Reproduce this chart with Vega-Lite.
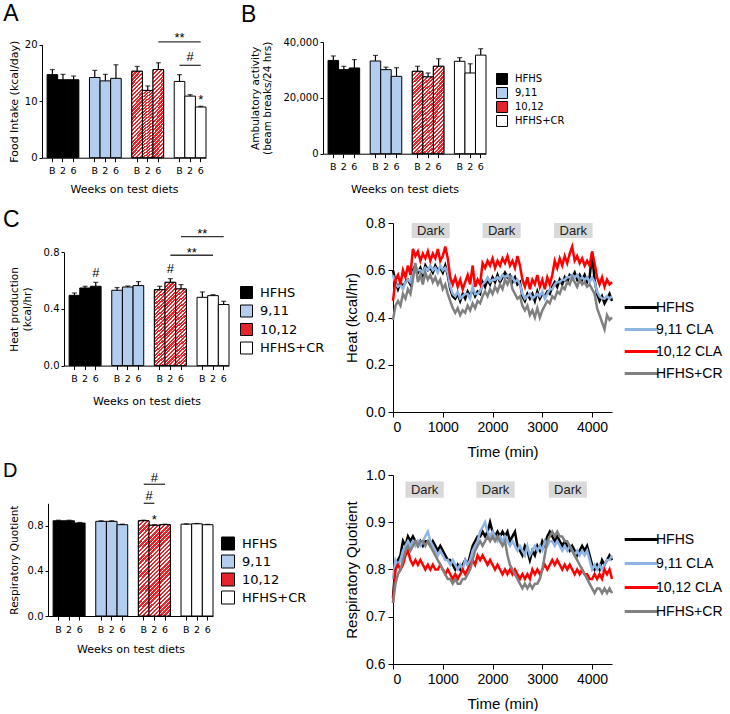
{
"$schema":"https://vega.github.io/schema/vega-lite/v6.json",
"padding":{"left":0,"top":3,"right":0,"bottom":0},
"background":"white",
"config":{"view":{"stroke":null},"axis":{"grid":false,"domainColor":"black","tickColor":"black","labelColor":"black","titleColor":"black","titleFontWeight":"normal"},"legend":{"labelColor":"black","labelLimit":300},"title":{"fontWeight":"normal","color":"black"}},
"datasets":{
"spacer":[{"k":1}],
"barA":[
{"bar":"HFHS-B","group":"HFHS","v":14.7,"hi":15.6},{"bar":"HFHS-2","group":"HFHS","v":13.8,"hi":14.75},{"bar":"HFHS-6","group":"HFHS","v":13.8,"hi":14.45},
{"bar":"9,11-B","group":"9,11","v":14.2,"hi":15.45},{"bar":"9,11-2","group":"9,11","v":13.6,"hi":14.75},{"bar":"9,11-6","group":"9,11","v":14.05,"hi":16.45},
{"bar":"10,12-B","group":"10,12","v":15.3,"hi":16.15},{"bar":"10,12-2","group":"10,12","v":11.9,"hi":12.7},{"bar":"10,12-6","group":"10,12","v":15.6,"hi":16.8},
{"bar":"CR-B","group":"HFHS+CR","v":13.5,"hi":14.7},{"bar":"CR-2","group":"HFHS+CR","v":10.9,"hi":11.15},{"bar":"CR-6","group":"HFHS+CR","v":8.97,"hi":9.1}],
"annA_l":[{"id":1,"bar":"10,12-6","v":20.5},{"id":1,"bar":"CR-6","v":20.5},{"id":2,"bar":"CR-B","v":16.35},{"id":2,"bar":"CR-6","v":16.35}],
"annA_t":[{"bar":"CR-B","v":21.15,"label":"**"},{"bar":"CR-2","v":17.8,"label":"#"},{"bar":"CR-6","v":10.3,"label":"*"}],
"barB":[
{"bar":"HFHS-B","group":"HFHS","v":33400,"hi":35000},{"bar":"HFHS-2","group":"HFHS","v":30100,"hi":31300},{"bar":"HFHS-6","group":"HFHS","v":30700,"hi":33700},
{"bar":"9,11-B","group":"9,11","v":33200,"hi":35200},{"bar":"9,11-2","group":"9,11","v":30100,"hi":31000},{"bar":"9,11-6","group":"9,11","v":27700,"hi":30800},
{"bar":"10,12-B","group":"10,12","v":29500,"hi":31300},{"bar":"10,12-2","group":"10,12","v":27500,"hi":28900},{"bar":"10,12-6","group":"10,12","v":31300,"hi":34000},
{"bar":"CR-B","group":"HFHS+CR","v":33100,"hi":34400},{"bar":"CR-2","group":"HFHS+CR","v":28900,"hi":32200},{"bar":"CR-6","group":"HFHS+CR","v":35300,"hi":37600}],
"barC":[
{"bar":"HFHS-B","group":"HFHS","v":0.496,"hi":0.513},{"bar":"HFHS-2","group":"HFHS","v":0.548,"hi":0.56},{"bar":"HFHS-6","group":"HFHS","v":0.56,"hi":0.588},
{"bar":"9,11-B","group":"9,11","v":0.532,"hi":0.551},{"bar":"9,11-2","group":"9,11","v":0.555,"hi":0.562},{"bar":"9,11-6","group":"9,11","v":0.565,"hi":0.593},
{"bar":"10,12-B","group":"10,12","v":0.536,"hi":0.56},{"bar":"10,12-2","group":"10,12","v":0.588,"hi":0.614},{"bar":"10,12-6","group":"10,12","v":0.541,"hi":0.572},
{"bar":"CR-B","group":"HFHS+CR","v":0.482,"hi":0.52},{"bar":"CR-2","group":"HFHS+CR","v":0.494,"hi":0.501},{"bar":"CR-6","group":"HFHS+CR","v":0.431,"hi":0.454}],
"annC_l":[{"id":1,"bar":"10,12-6","v":0.91},{"id":1,"bar":"CR-6","v":0.91},{"id":2,"bar":"10,12-2","v":0.779},{"id":2,"bar":"CR-2","v":0.779}],
"annC_t":[{"bar":"CR-B","v":0.926,"label":"**"},{"bar":"g3","v":0.796,"label":"**"},{"bar":"HFHS-6","v":0.651,"label":"#"},{"bar":"10,12-2","v":0.68,"label":"#"}],
"barD":[
{"bar":"HFHS-B","group":"HFHS","v":0.845,"hi":0.85},{"bar":"HFHS-2","group":"HFHS","v":0.845,"hi":0.85},{"bar":"HFHS-6","group":"HFHS","v":0.825,"hi":0.83},
{"bar":"9,11-B","group":"9,11","v":0.84,"hi":0.845},{"bar":"9,11-2","group":"9,11","v":0.84,"hi":0.845},{"bar":"9,11-6","group":"9,11","v":0.81,"hi":0.815},
{"bar":"10,12-B","group":"10,12","v":0.845,"hi":0.85},{"bar":"10,12-2","group":"10,12","v":0.805,"hi":0.81},{"bar":"10,12-6","group":"10,12","v":0.81,"hi":0.815},
{"bar":"CR-B","group":"HFHS+CR","v":0.815,"hi":0.818},{"bar":"CR-2","group":"HFHS+CR","v":0.818,"hi":0.821},{"bar":"CR-6","group":"HFHS+CR","v":0.81,"hi":0.813}],
"annD_l":[{"id":1,"bar":"10,12-B","v":1.0},{"id":1,"bar":"10,12-2","v":1.0},{"id":2,"bar":"10,12-B","v":1.169},{"id":2,"bar":"10,12-6","v":1.169}],
"annD_t":[{"bar":"10,12-2","v":1.227,"label":"#"},{"bar":"10,12-2","v":0.85,"label":"*"}],
"annD_t2":[{"bar":"10,12-B","v":1.065,"label":"#"}],
"darkC":[{"x1":375,"x2":1140,"mid":757,"y1":0.737,"y2":0.8,"ym":0.768,"label":"Dark"},{"x1":1800,"x2":2565,"mid":2182,"y1":0.737,"y2":0.8,"ym":0.768,"label":"Dark"},{"x1":3235,"x2":4010,"mid":3622,"y1":0.737,"y2":0.8,"ym":0.768,"label":"Dark"}],
"darkD":[{"x1":250,"x2":1020,"mid":635,"y1":0.952,"y2":0.986,"ym":0.969,"label":"Dark"},{"x1":1675,"x2":2445,"mid":2060,"y1":0.952,"y2":0.986,"ym":0.969,"label":"Dark"},{"x1":3130,"x2":3895,"mid":3512,"y1":0.952,"y2":0.986,"ym":0.969,"label":"Dark"}],
"heat":[
{"t":0,"HFHS":0.60,"9,11 CLA":0.58,"10,12 CLA":0.47,"HFHS+CR":0.39},
{"t":50,"HFHS":0.55,"9,11 CLA":0.54,"10,12 CLA":0.56,"HFHS+CR":0.45},
{"t":100,"HFHS":0.52,"9,11 CLA":0.53,"10,12 CLA":0.58,"HFHS+CR":0.47},
{"t":150,"HFHS":0.55,"9,11 CLA":0.54,"10,12 CLA":0.54,"HFHS+CR":0.45},
{"t":200,"HFHS":0.53,"9,11 CLA":0.52,"10,12 CLA":0.60,"HFHS+CR":0.50},
{"t":250,"HFHS":0.55,"9,11 CLA":0.55,"10,12 CLA":0.57,"HFHS+CR":0.48},
{"t":300,"HFHS":0.56,"9,11 CLA":0.56,"10,12 CLA":0.62,"HFHS+CR":0.52},
{"t":350,"HFHS":0.54,"9,11 CLA":0.55,"10,12 CLA":0.58,"HFHS+CR":0.50},
{"t":400,"HFHS":0.60,"9,11 CLA":0.59,"10,12 CLA":0.69,"HFHS+CR":0.56},
{"t":450,"HFHS":0.62,"9,11 CLA":0.61,"10,12 CLA":0.66,"HFHS+CR":0.63},
{"t":500,"HFHS":0.59,"9,11 CLA":0.60,"10,12 CLA":0.68,"HFHS+CR":0.55},
{"t":550,"HFHS":0.61,"9,11 CLA":0.60,"10,12 CLA":0.64,"HFHS+CR":0.58},
{"t":600,"HFHS":0.58,"9,11 CLA":0.59,"10,12 CLA":0.67,"HFHS+CR":0.54},
{"t":650,"HFHS":0.62,"9,11 CLA":0.61,"10,12 CLA":0.65,"HFHS+CR":0.59},
{"t":700,"HFHS":0.60,"9,11 CLA":0.60,"10,12 CLA":0.68,"HFHS+CR":0.56},
{"t":750,"HFHS":0.61,"9,11 CLA":0.62,"10,12 CLA":0.64,"HFHS+CR":0.58},
{"t":800,"HFHS":0.59,"9,11 CLA":0.60,"10,12 CLA":0.67,"HFHS+CR":0.55},
{"t":850,"HFHS":0.62,"9,11 CLA":0.61,"10,12 CLA":0.65,"HFHS+CR":0.57},
{"t":900,"HFHS":0.60,"9,11 CLA":0.59,"10,12 CLA":0.69,"HFHS+CR":0.54},
{"t":950,"HFHS":0.61,"9,11 CLA":0.62,"10,12 CLA":0.64,"HFHS+CR":0.56},
{"t":1000,"HFHS":0.59,"9,11 CLA":0.60,"10,12 CLA":0.66,"HFHS+CR":0.52},
{"t":1050,"HFHS":0.62,"9,11 CLA":0.61,"10,12 CLA":0.70,"HFHS+CR":0.54},
{"t":1100,"HFHS":0.58,"9,11 CLA":0.59,"10,12 CLA":0.65,"HFHS+CR":0.50},
{"t":1150,"HFHS":0.52,"9,11 CLA":0.53,"10,12 CLA":0.57,"HFHS+CR":0.47},
{"t":1200,"HFHS":0.49,"9,11 CLA":0.50,"10,12 CLA":0.54,"HFHS+CR":0.44},
{"t":1250,"HFHS":0.48,"9,11 CLA":0.49,"10,12 CLA":0.57,"HFHS+CR":0.42},
{"t":1300,"HFHS":0.50,"9,11 CLA":0.51,"10,12 CLA":0.53,"HFHS+CR":0.44},
{"t":1350,"HFHS":0.47,"9,11 CLA":0.48,"10,12 CLA":0.56,"HFHS+CR":0.41},
{"t":1400,"HFHS":0.50,"9,11 CLA":0.49,"10,12 CLA":0.52,"HFHS+CR":0.43},
{"t":1450,"HFHS":0.48,"9,11 CLA":0.50,"10,12 CLA":0.55,"HFHS+CR":0.42},
{"t":1500,"HFHS":0.51,"9,11 CLA":0.50,"10,12 CLA":0.58,"HFHS+CR":0.45},
{"t":1550,"HFHS":0.49,"9,11 CLA":0.48,"10,12 CLA":0.54,"HFHS+CR":0.43},
{"t":1600,"HFHS":0.52,"9,11 CLA":0.53,"10,12 CLA":0.62,"HFHS+CR":0.46},
{"t":1650,"HFHS":0.49,"9,11 CLA":0.50,"10,12 CLA":0.53,"HFHS+CR":0.44},
{"t":1700,"HFHS":0.51,"9,11 CLA":0.50,"10,12 CLA":0.56,"HFHS+CR":0.47},
{"t":1750,"HFHS":0.50,"9,11 CLA":0.51,"10,12 CLA":0.54,"HFHS+CR":0.46},
{"t":1800,"HFHS":0.55,"9,11 CLA":0.54,"10,12 CLA":0.63,"HFHS+CR":0.49},
{"t":1850,"HFHS":0.53,"9,11 CLA":0.55,"10,12 CLA":0.61,"HFHS+CR":0.51},
{"t":1900,"HFHS":0.56,"9,11 CLA":0.57,"10,12 CLA":0.64,"HFHS+CR":0.49},
{"t":1950,"HFHS":0.54,"9,11 CLA":0.55,"10,12 CLA":0.62,"HFHS+CR":0.52},
{"t":2000,"HFHS":0.57,"9,11 CLA":0.56,"10,12 CLA":0.65,"HFHS+CR":0.50},
{"t":2050,"HFHS":0.55,"9,11 CLA":0.56,"10,12 CLA":0.61,"HFHS+CR":0.53},
{"t":2100,"HFHS":0.58,"9,11 CLA":0.57,"10,12 CLA":0.64,"HFHS+CR":0.51},
{"t":2150,"HFHS":0.55,"9,11 CLA":0.56,"10,12 CLA":0.62,"HFHS+CR":0.54},
{"t":2200,"HFHS":0.57,"9,11 CLA":0.58,"10,12 CLA":0.65,"HFHS+CR":0.52},
{"t":2250,"HFHS":0.59,"9,11 CLA":0.57,"10,12 CLA":0.63,"HFHS+CR":0.56},
{"t":2300,"HFHS":0.57,"9,11 CLA":0.58,"10,12 CLA":0.66,"HFHS+CR":0.54},
{"t":2350,"HFHS":0.58,"9,11 CLA":0.56,"10,12 CLA":0.62,"HFHS+CR":0.57},
{"t":2400,"HFHS":0.55,"9,11 CLA":0.57,"10,12 CLA":0.64,"HFHS+CR":0.52},
{"t":2450,"HFHS":0.57,"9,11 CLA":0.55,"10,12 CLA":0.61,"HFHS+CR":0.50},
{"t":2500,"HFHS":0.54,"9,11 CLA":0.56,"10,12 CLA":0.66,"HFHS+CR":0.48},
{"t":2550,"HFHS":0.55,"9,11 CLA":0.54,"10,12 CLA":0.62,"HFHS+CR":0.49},
{"t":2600,"HFHS":0.49,"9,11 CLA":0.50,"10,12 CLA":0.56,"HFHS+CR":0.45},
{"t":2650,"HFHS":0.47,"9,11 CLA":0.48,"10,12 CLA":0.53,"HFHS+CR":0.43},
{"t":2700,"HFHS":0.50,"9,11 CLA":0.49,"10,12 CLA":0.57,"HFHS+CR":0.45},
{"t":2750,"HFHS":0.48,"9,11 CLA":0.50,"10,12 CLA":0.52,"HFHS+CR":0.41},
{"t":2800,"HFHS":0.50,"9,11 CLA":0.48,"10,12 CLA":0.56,"HFHS+CR":0.43},
{"t":2850,"HFHS":0.47,"9,11 CLA":0.49,"10,12 CLA":0.54,"HFHS+CR":0.40},
{"t":2900,"HFHS":0.51,"9,11 CLA":0.50,"10,12 CLA":0.58,"HFHS+CR":0.44},
{"t":2950,"HFHS":0.48,"9,11 CLA":0.49,"10,12 CLA":0.53,"HFHS+CR":0.40},
{"t":3000,"HFHS":0.50,"9,11 CLA":0.51,"10,12 CLA":0.56,"HFHS+CR":0.43},
{"t":3050,"HFHS":0.49,"9,11 CLA":0.48,"10,12 CLA":0.52,"HFHS+CR":0.45},
{"t":3100,"HFHS":0.51,"9,11 CLA":0.50,"10,12 CLA":0.57,"HFHS+CR":0.47},
{"t":3150,"HFHS":0.50,"9,11 CLA":0.52,"10,12 CLA":0.54,"HFHS+CR":0.46},
{"t":3200,"HFHS":0.53,"9,11 CLA":0.52,"10,12 CLA":0.58,"HFHS+CR":0.49},
{"t":3250,"HFHS":0.55,"9,11 CLA":0.54,"10,12 CLA":0.64,"HFHS+CR":0.48},
{"t":3300,"HFHS":0.53,"9,11 CLA":0.55,"10,12 CLA":0.61,"HFHS+CR":0.51},
{"t":3350,"HFHS":0.56,"9,11 CLA":0.55,"10,12 CLA":0.65,"HFHS+CR":0.50},
{"t":3400,"HFHS":0.54,"9,11 CLA":0.56,"10,12 CLA":0.62,"HFHS+CR":0.53},
{"t":3450,"HFHS":0.57,"9,11 CLA":0.56,"10,12 CLA":0.66,"HFHS+CR":0.52},
{"t":3500,"HFHS":0.55,"9,11 CLA":0.57,"10,12 CLA":0.63,"HFHS+CR":0.55},
{"t":3550,"HFHS":0.58,"9,11 CLA":0.57,"10,12 CLA":0.67,"HFHS+CR":0.54},
{"t":3600,"HFHS":0.57,"9,11 CLA":0.58,"10,12 CLA":0.70,"HFHS+CR":0.57},
{"t":3650,"HFHS":0.59,"9,11 CLA":0.57,"10,12 CLA":0.64,"HFHS+CR":0.55},
{"t":3700,"HFHS":0.56,"9,11 CLA":0.58,"10,12 CLA":0.66,"HFHS+CR":0.53},
{"t":3750,"HFHS":0.58,"9,11 CLA":0.56,"10,12 CLA":0.63,"HFHS+CR":0.56},
{"t":3800,"HFHS":0.56,"9,11 CLA":0.57,"10,12 CLA":0.65,"HFHS+CR":0.54},
{"t":3850,"HFHS":0.58,"9,11 CLA":0.56,"10,12 CLA":0.62,"HFHS+CR":0.55},
{"t":3900,"HFHS":0.55,"9,11 CLA":0.57,"10,12 CLA":0.64,"HFHS+CR":0.53},
{"t":3950,"HFHS":0.57,"9,11 CLA":0.55,"10,12 CLA":0.62,"HFHS+CR":0.54},
{"t":4000,"HFHS":0.67,"9,11 CLA":0.57,"10,12 CLA":0.68,"HFHS+CR":0.52},
{"t":4050,"HFHS":0.56,"9,11 CLA":0.55,"10,12 CLA":0.63,"HFHS+CR":0.50},
{"t":4100,"HFHS":0.50,"9,11 CLA":0.51,"10,12 CLA":0.57,"HFHS+CR":0.44},
{"t":4150,"HFHS":0.47,"9,11 CLA":0.49,"10,12 CLA":0.54,"HFHS+CR":0.41},
{"t":4200,"HFHS":0.49,"9,11 CLA":0.48,"10,12 CLA":0.57,"HFHS+CR":0.38},
{"t":4250,"HFHS":0.46,"9,11 CLA":0.48,"10,12 CLA":0.53,"HFHS+CR":0.35},
{"t":4300,"HFHS":0.48,"9,11 CLA":0.49,"10,12 CLA":0.56,"HFHS+CR":0.41},
{"t":4350,"HFHS":0.50,"9,11 CLA":0.48,"10,12 CLA":0.54,"HFHS+CR":0.39},
{"t":4400,"HFHS":0.47,"9,11 CLA":0.49,"10,12 CLA":0.55,"HFHS+CR":0.40}],
"rq":[
{"t":0,"HFHS":0.74,"9,11 CLA":0.78,"10,12 CLA":0.73,"HFHS+CR":0.73},
{"t":50,"HFHS":0.81,"9,11 CLA":0.82,"10,12 CLA":0.80,"HFHS+CR":0.77},
{"t":100,"HFHS":0.82,"9,11 CLA":0.81,"10,12 CLA":0.81,"HFHS+CR":0.79},
{"t":150,"HFHS":0.83,"9,11 CLA":0.82,"10,12 CLA":0.80,"HFHS+CR":0.80},
{"t":200,"HFHS":0.86,"9,11 CLA":0.84,"10,12 CLA":0.81,"HFHS+CR":0.82},
{"t":250,"HFHS":0.85,"9,11 CLA":0.85,"10,12 CLA":0.83,"HFHS+CR":0.84},
{"t":300,"HFHS":0.87,"9,11 CLA":0.86,"10,12 CLA":0.84,"HFHS+CR":0.85},
{"t":350,"HFHS":0.86,"9,11 CLA":0.85,"10,12 CLA":0.82,"HFHS+CR":0.84},
{"t":400,"HFHS":0.87,"9,11 CLA":0.86,"10,12 CLA":0.81,"HFHS+CR":0.85},
{"t":450,"HFHS":0.86,"9,11 CLA":0.85,"10,12 CLA":0.82,"HFHS+CR":0.86},
{"t":500,"HFHS":0.85,"9,11 CLA":0.86,"10,12 CLA":0.81,"HFHS+CR":0.85},
{"t":550,"HFHS":0.86,"9,11 CLA":0.85,"10,12 CLA":0.82,"HFHS+CR":0.86},
{"t":600,"HFHS":0.85,"9,11 CLA":0.86,"10,12 CLA":0.81,"HFHS+CR":0.86},
{"t":650,"HFHS":0.86,"9,11 CLA":0.87,"10,12 CLA":0.80,"HFHS+CR":0.85},
{"t":700,"HFHS":0.86,"9,11 CLA":0.88,"10,12 CLA":0.81,"HFHS+CR":0.86},
{"t":750,"HFHS":0.85,"9,11 CLA":0.86,"10,12 CLA":0.80,"HFHS+CR":0.85},
{"t":800,"HFHS":0.86,"9,11 CLA":0.85,"10,12 CLA":0.81,"HFHS+CR":0.84},
{"t":850,"HFHS":0.85,"9,11 CLA":0.84,"10,12 CLA":0.80,"HFHS+CR":0.83},
{"t":900,"HFHS":0.84,"9,11 CLA":0.83,"10,12 CLA":0.80,"HFHS+CR":0.82},
{"t":950,"HFHS":0.85,"9,11 CLA":0.84,"10,12 CLA":0.81,"HFHS+CR":0.81},
{"t":1000,"HFHS":0.84,"9,11 CLA":0.83,"10,12 CLA":0.80,"HFHS+CR":0.80},
{"t":1050,"HFHS":0.83,"9,11 CLA":0.82,"10,12 CLA":0.79,"HFHS+CR":0.79},
{"t":1100,"HFHS":0.82,"9,11 CLA":0.82,"10,12 CLA":0.80,"HFHS+CR":0.78},
{"t":1150,"HFHS":0.82,"9,11 CLA":0.81,"10,12 CLA":0.79,"HFHS+CR":0.78},
{"t":1200,"HFHS":0.81,"9,11 CLA":0.82,"10,12 CLA":0.78,"HFHS+CR":0.77},
{"t":1250,"HFHS":0.80,"9,11 CLA":0.81,"10,12 CLA":0.79,"HFHS+CR":0.78},
{"t":1300,"HFHS":0.81,"9,11 CLA":0.80,"10,12 CLA":0.78,"HFHS+CR":0.77},
{"t":1350,"HFHS":0.80,"9,11 CLA":0.81,"10,12 CLA":0.79,"HFHS+CR":0.77},
{"t":1400,"HFHS":0.81,"9,11 CLA":0.80,"10,12 CLA":0.80,"HFHS+CR":0.78},
{"t":1450,"HFHS":0.82,"9,11 CLA":0.82,"10,12 CLA":0.79,"HFHS+CR":0.78},
{"t":1500,"HFHS":0.81,"9,11 CLA":0.81,"10,12 CLA":0.80,"HFHS+CR":0.79},
{"t":1550,"HFHS":0.83,"9,11 CLA":0.82,"10,12 CLA":0.81,"HFHS+CR":0.80},
{"t":1600,"HFHS":0.85,"9,11 CLA":0.84,"10,12 CLA":0.82,"HFHS+CR":0.82},
{"t":1650,"HFHS":0.86,"9,11 CLA":0.85,"10,12 CLA":0.81,"HFHS+CR":0.84},
{"t":1700,"HFHS":0.87,"9,11 CLA":0.86,"10,12 CLA":0.83,"HFHS+CR":0.85},
{"t":1750,"HFHS":0.87,"9,11 CLA":0.88,"10,12 CLA":0.82,"HFHS+CR":0.86},
{"t":1800,"HFHS":0.88,"9,11 CLA":0.89,"10,12 CLA":0.83,"HFHS+CR":0.85},
{"t":1850,"HFHS":0.87,"9,11 CLA":0.90,"10,12 CLA":0.82,"HFHS+CR":0.86},
{"t":1900,"HFHS":0.88,"9,11 CLA":0.88,"10,12 CLA":0.81,"HFHS+CR":0.87},
{"t":1950,"HFHS":0.90,"9,11 CLA":0.87,"10,12 CLA":0.82,"HFHS+CR":0.86},
{"t":2000,"HFHS":0.88,"9,11 CLA":0.88,"10,12 CLA":0.81,"HFHS+CR":0.87},
{"t":2050,"HFHS":0.87,"9,11 CLA":0.87,"10,12 CLA":0.80,"HFHS+CR":0.86},
{"t":2100,"HFHS":0.88,"9,11 CLA":0.86,"10,12 CLA":0.81,"HFHS+CR":0.87},
{"t":2150,"HFHS":0.87,"9,11 CLA":0.87,"10,12 CLA":0.80,"HFHS+CR":0.86},
{"t":2200,"HFHS":0.88,"9,11 CLA":0.86,"10,12 CLA":0.79,"HFHS+CR":0.85},
{"t":2250,"HFHS":0.87,"9,11 CLA":0.87,"10,12 CLA":0.80,"HFHS+CR":0.86},
{"t":2300,"HFHS":0.88,"9,11 CLA":0.86,"10,12 CLA":0.79,"HFHS+CR":0.83},
{"t":2350,"HFHS":0.86,"9,11 CLA":0.85,"10,12 CLA":0.80,"HFHS+CR":0.81},
{"t":2400,"HFHS":0.87,"9,11 CLA":0.86,"10,12 CLA":0.79,"HFHS+CR":0.80},
{"t":2450,"HFHS":0.88,"9,11 CLA":0.85,"10,12 CLA":0.80,"HFHS+CR":0.79},
{"t":2500,"HFHS":0.85,"9,11 CLA":0.84,"10,12 CLA":0.79,"HFHS+CR":0.78},
{"t":2550,"HFHS":0.84,"9,11 CLA":0.85,"10,12 CLA":0.78,"HFHS+CR":0.77},
{"t":2600,"HFHS":0.83,"9,11 CLA":0.84,"10,12 CLA":0.79,"HFHS+CR":0.76},
{"t":2650,"HFHS":0.85,"9,11 CLA":0.83,"10,12 CLA":0.78,"HFHS+CR":0.77},
{"t":2700,"HFHS":0.84,"9,11 CLA":0.85,"10,12 CLA":0.79,"HFHS+CR":0.76},
{"t":2750,"HFHS":0.82,"9,11 CLA":0.83,"10,12 CLA":0.78,"HFHS+CR":0.77},
{"t":2800,"HFHS":0.84,"9,11 CLA":0.84,"10,12 CLA":0.80,"HFHS+CR":0.76},
{"t":2850,"HFHS":0.83,"9,11 CLA":0.85,"10,12 CLA":0.79,"HFHS+CR":0.77},
{"t":2900,"HFHS":0.85,"9,11 CLA":0.84,"10,12 CLA":0.80,"HFHS+CR":0.77},
{"t":2950,"HFHS":0.84,"9,11 CLA":0.85,"10,12 CLA":0.79,"HFHS+CR":0.78},
{"t":3000,"HFHS":0.86,"9,11 CLA":0.84,"10,12 CLA":0.80,"HFHS+CR":0.80},
{"t":3050,"HFHS":0.85,"9,11 CLA":0.86,"10,12 CLA":0.81,"HFHS+CR":0.83},
{"t":3100,"HFHS":0.87,"9,11 CLA":0.85,"10,12 CLA":0.80,"HFHS+CR":0.86},
{"t":3150,"HFHS":0.88,"9,11 CLA":0.86,"10,12 CLA":0.81,"HFHS+CR":0.87},
{"t":3200,"HFHS":0.87,"9,11 CLA":0.86,"10,12 CLA":0.82,"HFHS+CR":0.88},
{"t":3250,"HFHS":0.86,"9,11 CLA":0.85,"10,12 CLA":0.81,"HFHS+CR":0.87},
{"t":3300,"HFHS":0.87,"9,11 CLA":0.86,"10,12 CLA":0.82,"HFHS+CR":0.88},
{"t":3350,"HFHS":0.86,"9,11 CLA":0.85,"10,12 CLA":0.81,"HFHS+CR":0.87},
{"t":3400,"HFHS":0.85,"9,11 CLA":0.84,"10,12 CLA":0.80,"HFHS+CR":0.87},
{"t":3450,"HFHS":0.86,"9,11 CLA":0.85,"10,12 CLA":0.81,"HFHS+CR":0.86},
{"t":3500,"HFHS":0.85,"9,11 CLA":0.84,"10,12 CLA":0.80,"HFHS+CR":0.86},
{"t":3550,"HFHS":0.84,"9,11 CLA":0.85,"10,12 CLA":0.81,"HFHS+CR":0.85},
{"t":3600,"HFHS":0.85,"9,11 CLA":0.84,"10,12 CLA":0.80,"HFHS+CR":0.84},
{"t":3650,"HFHS":0.84,"9,11 CLA":0.83,"10,12 CLA":0.79,"HFHS+CR":0.83},
{"t":3700,"HFHS":0.83,"9,11 CLA":0.84,"10,12 CLA":0.80,"HFHS+CR":0.82},
{"t":3750,"HFHS":0.84,"9,11 CLA":0.83,"10,12 CLA":0.79,"HFHS+CR":0.81},
{"t":3800,"HFHS":0.85,"9,11 CLA":0.84,"10,12 CLA":0.80,"HFHS+CR":0.80},
{"t":3850,"HFHS":0.84,"9,11 CLA":0.83,"10,12 CLA":0.79,"HFHS+CR":0.79},
{"t":3900,"HFHS":0.85,"9,11 CLA":0.84,"10,12 CLA":0.79,"HFHS+CR":0.78},
{"t":3950,"HFHS":0.83,"9,11 CLA":0.82,"10,12 CLA":0.78,"HFHS+CR":0.77},
{"t":4000,"HFHS":0.81,"9,11 CLA":0.80,"10,12 CLA":0.78,"HFHS+CR":0.76},
{"t":4050,"HFHS":0.80,"9,11 CLA":0.81,"10,12 CLA":0.79,"HFHS+CR":0.75},
{"t":4100,"HFHS":0.81,"9,11 CLA":0.80,"10,12 CLA":0.78,"HFHS+CR":0.76},
{"t":4150,"HFHS":0.80,"9,11 CLA":0.81,"10,12 CLA":0.79,"HFHS+CR":0.76},
{"t":4200,"HFHS":0.82,"9,11 CLA":0.80,"10,12 CLA":0.78,"HFHS+CR":0.75},
{"t":4250,"HFHS":0.81,"9,11 CLA":0.81,"10,12 CLA":0.80,"HFHS+CR":0.76},
{"t":4300,"HFHS":0.82,"9,11 CLA":0.82,"10,12 CLA":0.79,"HFHS+CR":0.75},
{"t":4350,"HFHS":0.83,"9,11 CLA":0.82,"10,12 CLA":0.80,"HFHS+CR":0.76},
{"t":4400,"HFHS":0.82,"9,11 CLA":0.83,"10,12 CLA":0.78,"HFHS+CR":0.75}]
},
"vconcat":[
{"hconcat":[
 {"width":1,"height":1,"data":{"name":"spacer"},"mark":{"type":"point","opacity":0,"size":1},"encoding":{}},
 {"hconcat":[
 {"title":{"text":"A","anchor":"start","frame":"bounds","font":"Liberation Sans","fontSize":23,"dx":-5,"offset":6},
  "width":164,"height":115.7,
  "layer":[
   {"data":{"name":"barA"},"mark":{"type":"bar","stroke":"black","strokeWidth":1},
    "encoding":{
     "x":{"field":"bar","type":"nominal","scale":{"domain":["HFHS-B","HFHS-2","HFHS-6","g1","9,11-B","9,11-2","9,11-6","g2","10,12-B","10,12-2","10,12-6","g3","CR-B","CR-2","CR-6"],"paddingInner":0,"paddingOuter":0.24,"align":1},
      "axis":{"title":"Weeks on test diets","labelExpr":"indexof(datum.value,'-')>0 ? split(datum.value,'-')[1] : ''","labelAngle":0,"labelFont":"DejaVu Sans","labelFontSize":9.5,"labelPadding":4,"tickSize":4,"tickOpacity":{"condition":{"test":"indexof(datum.value,'-')<0","value":0},"value":1},"titleFont":"DejaVu Sans","titleFontSize":11,"titlePadding":8}},
     "y":{"field":"v","type":"quantitative","scale":{"domain":[0,20],"nice":false,"range":[115.7,2.7]},"axis":{"values":[0,5,10,15,20],"title":"Food Intake (kcal/day)","labelFont":"DejaVu Sans","labelFontSize":10,"tickSize":3,"labelPadding":2,"titleFont":"DejaVu Sans","titleFontSize":11,"titlePadding":5}},
     "fill":{"field":"group","type":"nominal","scale":{"domain":["HFHS","9,11","10,12","HFHS+CR"],"range":["#000000","#b3cdef","#e4262c","#ffffff"]},"legend":null}}},
   {"data":{"name":"barA"},"transform":[{"filter":"datum.group==='10,12'"}],
    "mark":{"type":"bar","stroke":"black","strokeWidth":1,"fill":{"gradient":"linear","x1":0,"y1":0,"x2":0.14,"y2":1.108,"stops":[{"offset":0,"color":"#e4262c"},{"offset":0.024,"color":"#e4262c"},{"offset":0.024,"color":"#fff"},{"offset":0.04,"color":"#fff"},{"offset":0.04,"color":"#e4262c"},{"offset":0.064,"color":"#e4262c"},{"offset":0.064,"color":"#fff"},{"offset":0.08,"color":"#fff"},{"offset":0.08,"color":"#e4262c"},{"offset":0.104,"color":"#e4262c"},{"offset":0.104,"color":"#fff"},{"offset":0.12,"color":"#fff"},{"offset":0.12,"color":"#e4262c"},{"offset":0.144,"color":"#e4262c"},{"offset":0.144,"color":"#fff"},{"offset":0.16,"color":"#fff"},{"offset":0.16,"color":"#e4262c"},{"offset":0.184,"color":"#e4262c"},{"offset":0.184,"color":"#fff"},{"offset":0.2,"color":"#fff"},{"offset":0.2,"color":"#e4262c"},{"offset":0.224,"color":"#e4262c"},{"offset":0.224,"color":"#fff"},{"offset":0.24,"color":"#fff"},{"offset":0.24,"color":"#e4262c"},{"offset":0.264,"color":"#e4262c"},{"offset":0.264,"color":"#fff"},{"offset":0.28,"color":"#fff"},{"offset":0.28,"color":"#e4262c"},{"offset":0.304,"color":"#e4262c"},{"offset":0.304,"color":"#fff"},{"offset":0.32,"color":"#fff"},{"offset":0.32,"color":"#e4262c"},{"offset":0.344,"color":"#e4262c"},{"offset":0.344,"color":"#fff"},{"offset":0.36,"color":"#fff"},{"offset":0.36,"color":"#e4262c"},{"offset":0.384,"color":"#e4262c"},{"offset":0.384,"color":"#fff"},{"offset":0.4,"color":"#fff"},{"offset":0.4,"color":"#e4262c"},{"offset":0.424,"color":"#e4262c"},{"offset":0.424,"color":"#fff"},{"offset":0.44,"color":"#fff"},{"offset":0.44,"color":"#e4262c"},{"offset":0.464,"color":"#e4262c"},{"offset":0.464,"color":"#fff"},{"offset":0.48,"color":"#fff"},{"offset":0.48,"color":"#e4262c"},{"offset":0.504,"color":"#e4262c"},{"offset":0.504,"color":"#fff"},{"offset":0.52,"color":"#fff"},{"offset":0.52,"color":"#e4262c"},{"offset":0.544,"color":"#e4262c"},{"offset":0.544,"color":"#fff"},{"offset":0.56,"color":"#fff"},{"offset":0.56,"color":"#e4262c"},{"offset":0.584,"color":"#e4262c"},{"offset":0.584,"color":"#fff"},{"offset":0.6,"color":"#fff"},{"offset":0.6,"color":"#e4262c"},{"offset":0.624,"color":"#e4262c"},{"offset":0.624,"color":"#fff"},{"offset":0.64,"color":"#fff"},{"offset":0.64,"color":"#e4262c"},{"offset":0.664,"color":"#e4262c"},{"offset":0.664,"color":"#fff"},{"offset":0.68,"color":"#fff"},{"offset":0.68,"color":"#e4262c"},{"offset":0.704,"color":"#e4262c"},{"offset":0.704,"color":"#fff"},{"offset":0.72,"color":"#fff"},{"offset":0.72,"color":"#e4262c"},{"offset":0.744,"color":"#e4262c"},{"offset":0.744,"color":"#fff"},{"offset":0.76,"color":"#fff"},{"offset":0.76,"color":"#e4262c"},{"offset":0.784,"color":"#e4262c"},{"offset":0.784,"color":"#fff"},{"offset":0.8,"color":"#fff"},{"offset":0.8,"color":"#e4262c"},{"offset":0.824,"color":"#e4262c"},{"offset":0.824,"color":"#fff"},{"offset":0.84,"color":"#fff"},{"offset":0.84,"color":"#e4262c"},{"offset":0.864,"color":"#e4262c"},{"offset":0.864,"color":"#fff"},{"offset":0.88,"color":"#fff"},{"offset":0.88,"color":"#e4262c"},{"offset":0.904,"color":"#e4262c"},{"offset":0.904,"color":"#fff"},{"offset":0.92,"color":"#fff"},{"offset":0.92,"color":"#e4262c"},{"offset":0.944,"color":"#e4262c"},{"offset":0.944,"color":"#fff"},{"offset":0.96,"color":"#fff"},{"offset":0.96,"color":"#e4262c"},{"offset":0.984,"color":"#e4262c"},{"offset":0.984,"color":"#fff"},{"offset":1,"color":"#fff"}]}},
    "encoding":{"x":{"field":"bar","type":"nominal"},"y":{"field":"v","type":"quantitative"}}},
   {"data":{"name":"barA"},"mark":{"type":"rule","strokeWidth":1.2,"color":"black"},"encoding":{"x":{"field":"bar","type":"nominal"},"y":{"field":"v","type":"quantitative"},"y2":{"field":"hi"}}},
   {"data":{"name":"barA"},"mark":{"type":"tick","thickness":1.2,"size":5,"color":"black"},"encoding":{"x":{"field":"bar","type":"nominal"},"y":{"field":"hi","type":"quantitative"}}},
   {"data":{"name":"annA_l"},"mark":{"type":"line","color":"#333333","strokeWidth":1.3},"encoding":{"x":{"field":"bar","type":"nominal"},"y":{"field":"v","type":"quantitative"},"detail":{"field":"id","type":"nominal"}}},
   {"data":{"name":"annA_t"},"mark":{"type":"text","font":"Liberation Sans","fontSize":13,"baseline":"middle","color":"black"},"encoding":{"x":{"field":"bar","type":"nominal"},"y":{"field":"v","type":"quantitative"},"text":{"field":"label"}}}
  ]},
 {"title":{"text":"B","anchor":"start","frame":"bounds","font":"Liberation Sans","fontSize":23,"dx":-9,"offset":10},
  "width":163,"height":111.7,
  "layer":[
   {"data":{"name":"barB"},"mark":{"type":"bar","stroke":"black","strokeWidth":1},
    "encoding":{
     "x":{"field":"bar","type":"nominal","scale":{"domain":["HFHS-B","HFHS-2","HFHS-6","g1","9,11-B","9,11-2","9,11-6","g2","10,12-B","10,12-2","10,12-6","g3","CR-B","CR-2","CR-6"],"paddingInner":0,"paddingOuter":0.24,"align":1},
      "axis":{"title":"Weeks on test diets","labelExpr":"indexof(datum.value,'-')>0 ? split(datum.value,'-')[1] : ''","labelAngle":0,"labelFont":"DejaVu Sans","labelFontSize":9.5,"labelPadding":4,"tickSize":4,"tickOpacity":{"condition":{"test":"indexof(datum.value,'-')<0","value":0},"value":1},"titleFont":"DejaVu Sans","titleFontSize":11,"titlePadding":12}},
     "y":{"field":"v","type":"quantitative","scale":{"domain":[0,40000],"nice":false},"axis":{"values":[0,10000,20000,30000,40000],"format":",.0f","labelOverlap":false,"title":["Ambulatory activity","(beam breaks/24 hrs)"],"titleLineHeight":12,"labelFont":"DejaVu Sans","labelFontSize":10,"tickSize":3,"labelPadding":2,"titleFont":"DejaVu Sans","titleFontSize":10.5,"titlePadding":11}},
     "fill":{"field":"group","type":"nominal","scale":{"domain":["HFHS","9,11","10,12","HFHS+CR"],"range":["#000000","#b3cdef","#e4262c","#ffffff"]},
      "legend":{"orient":"none","legendX":173,"legendY":31,"title":null,"symbolType":"square","symbolSize":121,"symbolStrokeColor":"black","symbolStrokeWidth":1,"labelFont":"DejaVu Sans","labelFontSize":10,"labelOffset":7,"rowPadding":-3,
       "encode":{"symbols":{"update":{"stroke":{"value":"black"},"strokeWidth":{"value":1},"fill":{"signal":"datum.label==='HFHS'?'#000000':datum.label==='9,11'?'#b3cdef':datum.label==='10,12'?{gradient:'linear',x1:0,y1:0,x2:1,y2:1,stops:[{offset:0,color:'#e4262c'},{offset:0.1,color:'#e4262c'},{offset:0.1,color:'#fff'},{offset:0.167,color:'#fff'},{offset:0.167,color:'#e4262c'},{offset:0.267,color:'#e4262c'},{offset:0.267,color:'#fff'},{offset:0.333,color:'#fff'},{offset:0.333,color:'#e4262c'},{offset:0.433,color:'#e4262c'},{offset:0.433,color:'#fff'},{offset:0.5,color:'#fff'},{offset:0.5,color:'#e4262c'},{offset:0.6,color:'#e4262c'},{offset:0.6,color:'#fff'},{offset:0.667,color:'#fff'},{offset:0.667,color:'#e4262c'},{offset:0.767,color:'#e4262c'},{offset:0.767,color:'#fff'},{offset:0.833,color:'#fff'},{offset:0.833,color:'#e4262c'},{offset:0.933,color:'#e4262c'},{offset:0.933,color:'#fff'},{offset:1,color:'#fff'}]}:'#ffffff'"}}}}}}}},
   {"data":{"name":"barB"},"transform":[{"filter":"datum.group==='10,12'"}],
    "mark":{"type":"bar","stroke":"black","strokeWidth":1,"fill":{"gradient":"linear","x1":0,"y1":0,"x2":0.14,"y2":1.108,"stops":[{"offset":0,"color":"#e4262c"},{"offset":0.024,"color":"#e4262c"},{"offset":0.024,"color":"#fff"},{"offset":0.04,"color":"#fff"},{"offset":0.04,"color":"#e4262c"},{"offset":0.064,"color":"#e4262c"},{"offset":0.064,"color":"#fff"},{"offset":0.08,"color":"#fff"},{"offset":0.08,"color":"#e4262c"},{"offset":0.104,"color":"#e4262c"},{"offset":0.104,"color":"#fff"},{"offset":0.12,"color":"#fff"},{"offset":0.12,"color":"#e4262c"},{"offset":0.144,"color":"#e4262c"},{"offset":0.144,"color":"#fff"},{"offset":0.16,"color":"#fff"},{"offset":0.16,"color":"#e4262c"},{"offset":0.184,"color":"#e4262c"},{"offset":0.184,"color":"#fff"},{"offset":0.2,"color":"#fff"},{"offset":0.2,"color":"#e4262c"},{"offset":0.224,"color":"#e4262c"},{"offset":0.224,"color":"#fff"},{"offset":0.24,"color":"#fff"},{"offset":0.24,"color":"#e4262c"},{"offset":0.264,"color":"#e4262c"},{"offset":0.264,"color":"#fff"},{"offset":0.28,"color":"#fff"},{"offset":0.28,"color":"#e4262c"},{"offset":0.304,"color":"#e4262c"},{"offset":0.304,"color":"#fff"},{"offset":0.32,"color":"#fff"},{"offset":0.32,"color":"#e4262c"},{"offset":0.344,"color":"#e4262c"},{"offset":0.344,"color":"#fff"},{"offset":0.36,"color":"#fff"},{"offset":0.36,"color":"#e4262c"},{"offset":0.384,"color":"#e4262c"},{"offset":0.384,"color":"#fff"},{"offset":0.4,"color":"#fff"},{"offset":0.4,"color":"#e4262c"},{"offset":0.424,"color":"#e4262c"},{"offset":0.424,"color":"#fff"},{"offset":0.44,"color":"#fff"},{"offset":0.44,"color":"#e4262c"},{"offset":0.464,"color":"#e4262c"},{"offset":0.464,"color":"#fff"},{"offset":0.48,"color":"#fff"},{"offset":0.48,"color":"#e4262c"},{"offset":0.504,"color":"#e4262c"},{"offset":0.504,"color":"#fff"},{"offset":0.52,"color":"#fff"},{"offset":0.52,"color":"#e4262c"},{"offset":0.544,"color":"#e4262c"},{"offset":0.544,"color":"#fff"},{"offset":0.56,"color":"#fff"},{"offset":0.56,"color":"#e4262c"},{"offset":0.584,"color":"#e4262c"},{"offset":0.584,"color":"#fff"},{"offset":0.6,"color":"#fff"},{"offset":0.6,"color":"#e4262c"},{"offset":0.624,"color":"#e4262c"},{"offset":0.624,"color":"#fff"},{"offset":0.64,"color":"#fff"},{"offset":0.64,"color":"#e4262c"},{"offset":0.664,"color":"#e4262c"},{"offset":0.664,"color":"#fff"},{"offset":0.68,"color":"#fff"},{"offset":0.68,"color":"#e4262c"},{"offset":0.704,"color":"#e4262c"},{"offset":0.704,"color":"#fff"},{"offset":0.72,"color":"#fff"},{"offset":0.72,"color":"#e4262c"},{"offset":0.744,"color":"#e4262c"},{"offset":0.744,"color":"#fff"},{"offset":0.76,"color":"#fff"},{"offset":0.76,"color":"#e4262c"},{"offset":0.784,"color":"#e4262c"},{"offset":0.784,"color":"#fff"},{"offset":0.8,"color":"#fff"},{"offset":0.8,"color":"#e4262c"},{"offset":0.824,"color":"#e4262c"},{"offset":0.824,"color":"#fff"},{"offset":0.84,"color":"#fff"},{"offset":0.84,"color":"#e4262c"},{"offset":0.864,"color":"#e4262c"},{"offset":0.864,"color":"#fff"},{"offset":0.88,"color":"#fff"},{"offset":0.88,"color":"#e4262c"},{"offset":0.904,"color":"#e4262c"},{"offset":0.904,"color":"#fff"},{"offset":0.92,"color":"#fff"},{"offset":0.92,"color":"#e4262c"},{"offset":0.944,"color":"#e4262c"},{"offset":0.944,"color":"#fff"},{"offset":0.96,"color":"#fff"},{"offset":0.96,"color":"#e4262c"},{"offset":0.984,"color":"#e4262c"},{"offset":0.984,"color":"#fff"},{"offset":1,"color":"#fff"}]}},
    "encoding":{"x":{"field":"bar","type":"nominal"},"y":{"field":"v","type":"quantitative"}}},
   {"data":{"name":"barB"},"mark":{"type":"rule","strokeWidth":1.2,"color":"black"},"encoding":{"x":{"field":"bar","type":"nominal"},"y":{"field":"v","type":"quantitative"},"y2":{"field":"hi"}}},
   {"data":{"name":"barB"},"mark":{"type":"tick","thickness":1.2,"size":5,"color":"black"},"encoding":{"x":{"field":"bar","type":"nominal"},"y":{"field":"hi","type":"quantitative"}}}
  ]}
 ],"spacing":34,"resolve":{"scale":{"fill":"independent","color":"independent"},"legend":{"fill":"independent","color":"independent"}}}
 ],"spacing":2,"resolve":{"scale":{"fill":"independent","color":"independent"},"legend":{"fill":"independent","color":"independent"}}},
{"vconcat":[
 {"hconcat":[
  {"width":1,"height":1,"data":{"name":"spacer"},"mark":{"type":"point","opacity":0,"size":1},"encoding":{}},
  {"hconcat":[
  {"title":{"text":"C","anchor":"start","frame":"bounds","font":"Liberation Sans","fontSize":23,"dx":-6,"offset":-9},
   "width":165,"height":142.6,
   "layer":[
    {"data":{"name":"barC"},"mark":{"type":"bar","stroke":"black","strokeWidth":1},
     "encoding":{
      "x":{"field":"bar","type":"nominal","scale":{"domain":["HFHS-B","HFHS-2","HFHS-6","g1","9,11-B","9,11-2","9,11-6","g2","10,12-B","10,12-2","10,12-6","g3","CR-B","CR-2","CR-6"],"paddingInner":0,"paddingOuter":0.24,"align":1},
       "axis":{"title":"Weeks on test diets","labelExpr":"indexof(datum.value,'-')>0 ? split(datum.value,'-')[1] : ''","labelAngle":0,"labelFont":"DejaVu Sans","labelFontSize":9.5,"labelPadding":4,"tickSize":4,"tickOpacity":{"condition":{"test":"indexof(datum.value,'-')<0","value":0},"value":1},"titleFont":"DejaVu Sans","titleFontSize":11,"titlePadding":12}},
      "y":{"field":"v","type":"quantitative","scale":{"domain":[0,0.8],"nice":false,"range":[142.6,29.3]},"axis":{"values":[0,0.2,0.4,0.6,0.8],"format":".1f","title":["Heat production","(kcal/hr)"],"titleLineHeight":13,"labelFont":"DejaVu Sans","labelFontSize":10,"tickSize":3,"labelPadding":2,"titleFont":"DejaVu Sans","titleFontSize":10.5,"titlePadding":11}},
      "fill":{"field":"group","type":"nominal","scale":{"domain":["HFHS","9,11","10,12","HFHS+CR"],"range":["#000000","#b3cdef","#e4262c","#ffffff"]},
       "legend":{"orient":"none","legendX":176,"legendY":63,"title":null,"symbolType":"square","symbolSize":144,"symbolStrokeColor":"black","symbolStrokeWidth":1,"labelFont":"DejaVu Sans","labelFontSize":13,"labelOffset":7,"rowPadding":1.5,
        "encode":{"symbols":{"update":{"stroke":{"value":"black"},"strokeWidth":{"value":1},"fill":{"signal":"datum.label==='HFHS'?'#000000':datum.label==='9,11'?'#b3cdef':datum.label==='10,12'?{gradient:'linear',x1:0,y1:0,x2:1,y2:1,stops:[{offset:0,color:'#e4262c'},{offset:0.1,color:'#e4262c'},{offset:0.1,color:'#fff'},{offset:0.167,color:'#fff'},{offset:0.167,color:'#e4262c'},{offset:0.267,color:'#e4262c'},{offset:0.267,color:'#fff'},{offset:0.333,color:'#fff'},{offset:0.333,color:'#e4262c'},{offset:0.433,color:'#e4262c'},{offset:0.433,color:'#fff'},{offset:0.5,color:'#fff'},{offset:0.5,color:'#e4262c'},{offset:0.6,color:'#e4262c'},{offset:0.6,color:'#fff'},{offset:0.667,color:'#fff'},{offset:0.667,color:'#e4262c'},{offset:0.767,color:'#e4262c'},{offset:0.767,color:'#fff'},{offset:0.833,color:'#fff'},{offset:0.833,color:'#e4262c'},{offset:0.933,color:'#e4262c'},{offset:0.933,color:'#fff'},{offset:1,color:'#fff'}]}:'#ffffff'"}}}}}}}},
    {"data":{"name":"barC"},"transform":[{"filter":"datum.group==='10,12'"}],
     "mark":{"type":"bar","stroke":"black","strokeWidth":1,"fill":{"gradient":"linear","x1":0,"y1":0,"x2":0.14,"y2":1.108,"stops":[{"offset":0,"color":"#e4262c"},{"offset":0.024,"color":"#e4262c"},{"offset":0.024,"color":"#fff"},{"offset":0.04,"color":"#fff"},{"offset":0.04,"color":"#e4262c"},{"offset":0.064,"color":"#e4262c"},{"offset":0.064,"color":"#fff"},{"offset":0.08,"color":"#fff"},{"offset":0.08,"color":"#e4262c"},{"offset":0.104,"color":"#e4262c"},{"offset":0.104,"color":"#fff"},{"offset":0.12,"color":"#fff"},{"offset":0.12,"color":"#e4262c"},{"offset":0.144,"color":"#e4262c"},{"offset":0.144,"color":"#fff"},{"offset":0.16,"color":"#fff"},{"offset":0.16,"color":"#e4262c"},{"offset":0.184,"color":"#e4262c"},{"offset":0.184,"color":"#fff"},{"offset":0.2,"color":"#fff"},{"offset":0.2,"color":"#e4262c"},{"offset":0.224,"color":"#e4262c"},{"offset":0.224,"color":"#fff"},{"offset":0.24,"color":"#fff"},{"offset":0.24,"color":"#e4262c"},{"offset":0.264,"color":"#e4262c"},{"offset":0.264,"color":"#fff"},{"offset":0.28,"color":"#fff"},{"offset":0.28,"color":"#e4262c"},{"offset":0.304,"color":"#e4262c"},{"offset":0.304,"color":"#fff"},{"offset":0.32,"color":"#fff"},{"offset":0.32,"color":"#e4262c"},{"offset":0.344,"color":"#e4262c"},{"offset":0.344,"color":"#fff"},{"offset":0.36,"color":"#fff"},{"offset":0.36,"color":"#e4262c"},{"offset":0.384,"color":"#e4262c"},{"offset":0.384,"color":"#fff"},{"offset":0.4,"color":"#fff"},{"offset":0.4,"color":"#e4262c"},{"offset":0.424,"color":"#e4262c"},{"offset":0.424,"color":"#fff"},{"offset":0.44,"color":"#fff"},{"offset":0.44,"color":"#e4262c"},{"offset":0.464,"color":"#e4262c"},{"offset":0.464,"color":"#fff"},{"offset":0.48,"color":"#fff"},{"offset":0.48,"color":"#e4262c"},{"offset":0.504,"color":"#e4262c"},{"offset":0.504,"color":"#fff"},{"offset":0.52,"color":"#fff"},{"offset":0.52,"color":"#e4262c"},{"offset":0.544,"color":"#e4262c"},{"offset":0.544,"color":"#fff"},{"offset":0.56,"color":"#fff"},{"offset":0.56,"color":"#e4262c"},{"offset":0.584,"color":"#e4262c"},{"offset":0.584,"color":"#fff"},{"offset":0.6,"color":"#fff"},{"offset":0.6,"color":"#e4262c"},{"offset":0.624,"color":"#e4262c"},{"offset":0.624,"color":"#fff"},{"offset":0.64,"color":"#fff"},{"offset":0.64,"color":"#e4262c"},{"offset":0.664,"color":"#e4262c"},{"offset":0.664,"color":"#fff"},{"offset":0.68,"color":"#fff"},{"offset":0.68,"color":"#e4262c"},{"offset":0.704,"color":"#e4262c"},{"offset":0.704,"color":"#fff"},{"offset":0.72,"color":"#fff"},{"offset":0.72,"color":"#e4262c"},{"offset":0.744,"color":"#e4262c"},{"offset":0.744,"color":"#fff"},{"offset":0.76,"color":"#fff"},{"offset":0.76,"color":"#e4262c"},{"offset":0.784,"color":"#e4262c"},{"offset":0.784,"color":"#fff"},{"offset":0.8,"color":"#fff"},{"offset":0.8,"color":"#e4262c"},{"offset":0.824,"color":"#e4262c"},{"offset":0.824,"color":"#fff"},{"offset":0.84,"color":"#fff"},{"offset":0.84,"color":"#e4262c"},{"offset":0.864,"color":"#e4262c"},{"offset":0.864,"color":"#fff"},{"offset":0.88,"color":"#fff"},{"offset":0.88,"color":"#e4262c"},{"offset":0.904,"color":"#e4262c"},{"offset":0.904,"color":"#fff"},{"offset":0.92,"color":"#fff"},{"offset":0.92,"color":"#e4262c"},{"offset":0.944,"color":"#e4262c"},{"offset":0.944,"color":"#fff"},{"offset":0.96,"color":"#fff"},{"offset":0.96,"color":"#e4262c"},{"offset":0.984,"color":"#e4262c"},{"offset":0.984,"color":"#fff"},{"offset":1,"color":"#fff"}]}},
     "encoding":{"x":{"field":"bar","type":"nominal"},"y":{"field":"v","type":"quantitative"}}},
    {"data":{"name":"barC"},"mark":{"type":"rule","strokeWidth":1.2,"color":"black"},"encoding":{"x":{"field":"bar","type":"nominal"},"y":{"field":"v","type":"quantitative"},"y2":{"field":"hi"}}},
    {"data":{"name":"barC"},"mark":{"type":"tick","thickness":1.2,"size":5,"color":"black"},"encoding":{"x":{"field":"bar","type":"nominal"},"y":{"field":"hi","type":"quantitative"}}},
    {"data":{"name":"annC_l"},"mark":{"type":"line","color":"#333333","strokeWidth":1.3},"encoding":{"x":{"field":"bar","type":"nominal"},"y":{"field":"v","type":"quantitative"},"detail":{"field":"id","type":"nominal"}}},
    {"data":{"name":"annC_t"},"mark":{"type":"text","font":"Liberation Sans","fontSize":13,"baseline":"middle","color":"black"},"encoding":{"x":{"field":"bar","type":"nominal"},"y":{"field":"v","type":"quantitative"},"text":{"field":"label"}}}
   ]},
  {"width":219,"height":189,
   "layer":[
    {"data":{"name":"darkC"},"mark":{"type":"rect","fill":"#d9d9d9"},
     "encoding":{
      "x":{"field":"x1","type":"quantitative","scale":{"domain":[0,4400],"nice":false},"axis":{"values":[0,500,1000,1500,2000,2500,3000,3500,4000],"labelExpr":"datum.value % 1000 === 0 ? datum.label : ''","format":"d","title":"Time (min)","labelFont":"Liberation Sans","labelFontSize":14,"titleFont":"Liberation Sans","titleFontSize":15,"tickSize":5,"labelPadding":3,"titlePadding":10}},
      "x2":{"field":"x2"},
      "y":{"field":"y1","type":"quantitative","scale":{"domain":[0,0.8],"nice":false},"axis":{"values":[0,0.2,0.4,0.6,0.8],"format":".1f","title":"Heat (kcal/hr)","labelFont":"Liberation Sans","labelFontSize":14,"titleFont":"Liberation Sans","titleFontSize":15,"tickSize":5,"labelPadding":3,"titlePadding":6}},
      "y2":{"field":"y2"}}},
    {"data":{"name":"darkC"},"mark":{"type":"text","font":"Liberation Sans","fontSize":13,"color":"#222222","baseline":"middle"},"encoding":{"x":{"field":"mid","type":"quantitative"},"y":{"field":"ym","type":"quantitative"},"text":{"field":"label"}}},
    {"data":{"name":"heat"},"transform":[{"fold":["HFHS","9,11 CLA","10,12 CLA","HFHS+CR"],"as":["series","val"]}],
     "mark":{"type":"line","strokeWidth":2.5},
     "encoding":{"x":{"field":"t","type":"quantitative"},"y":{"field":"val","type":"quantitative"},
      "color":{"field":"series","type":"nominal","scale":{"domain":["HFHS","9,11 CLA","10,12 CLA","HFHS+CR"],"range":["#000000","#8eb4e3","#ff0000","#808080"]},
       "legend":{"orient":"none","legendX":241,"legendY":77,"title":null,"symbolType":"M-2.8,0H2.8","symbolSize":144,"symbolStrokeWidth":3,"labelFont":"Liberation Sans","labelFontSize":14,"labelOffset":7,"rowPadding":7}}}}
   ]}
  ],"spacing":19,"resolve":{"scale":{"fill":"independent","color":"independent"},"legend":{"fill":"independent","color":"independent"}}}
 ],"spacing":2,"resolve":{"scale":{"fill":"independent","color":"independent"},"legend":{"fill":"independent","color":"independent"}}},
 {"hconcat":[
  {"width":1,"height":1,"data":{"name":"spacer"},"mark":{"type":"point","opacity":0,"size":1},"encoding":{}},
  {"hconcat":[
  {"title":{"text":"D","anchor":"start","frame":"bounds","font":"Liberation Sans","fontSize":20,"dx":-6,"offset":-9},
   "width":165,"height":141,
   "layer":[
    {"data":{"name":"barD"},"mark":{"type":"bar","stroke":"black","strokeWidth":1},
     "encoding":{
      "x":{"field":"bar","type":"nominal","scale":{"domain":["HFHS-B","HFHS-2","HFHS-6","g1","9,11-B","9,11-2","9,11-6","g2","10,12-B","10,12-2","10,12-6","g3","CR-B","CR-2","CR-6"],"paddingInner":0,"paddingOuter":0.24,"align":1},
       "axis":{"title":"Weeks on test diets","labelExpr":"indexof(datum.value,'-')>0 ? split(datum.value,'-')[1] : ''","labelAngle":0,"labelFont":"DejaVu Sans","labelFontSize":9.5,"labelPadding":4,"tickSize":4,"tickOpacity":{"condition":{"test":"indexof(datum.value,'-')<0","value":0},"value":1},"titleFont":"DejaVu Sans","titleFontSize":11,"titlePadding":10}},
      "y":{"field":"v","type":"quantitative","scale":{"domain":[0,1],"nice":false,"range":[141,28.3]},"axis":{"values":[0,0.2,0.4,0.6,0.8,1.0],"format":".1f","title":"Respiratory Quotient","labelFont":"DejaVu Sans","labelFontSize":10,"tickSize":3,"labelPadding":2,"titleFont":"DejaVu Sans","titleFontSize":10.5,"titlePadding":8}},
      "fill":{"field":"group","type":"nominal","scale":{"domain":["HFHS","9,11","10,12","HFHS+CR"],"range":["#000000","#b3cdef","#e4262c","#ffffff"]},
       "legend":{"orient":"none","legendX":173,"legendY":61.5,"title":null,"symbolType":"square","symbolSize":169,"symbolStrokeColor":"black","symbolStrokeWidth":1,"labelFont":"DejaVu Sans","labelFontSize":13,"labelOffset":7,"rowPadding":0,
        "encode":{"symbols":{"update":{"stroke":{"value":"black"},"strokeWidth":{"value":1},"fill":{"signal":"datum.label==='HFHS'?'#000000':datum.label==='9,11'?'#b3cdef':datum.label==='10,12'?{gradient:'linear',x1:0,y1:0,x2:1,y2:1,stops:[{offset:0,color:'#e4262c'},{offset:0.1,color:'#e4262c'},{offset:0.1,color:'#fff'},{offset:0.167,color:'#fff'},{offset:0.167,color:'#e4262c'},{offset:0.267,color:'#e4262c'},{offset:0.267,color:'#fff'},{offset:0.333,color:'#fff'},{offset:0.333,color:'#e4262c'},{offset:0.433,color:'#e4262c'},{offset:0.433,color:'#fff'},{offset:0.5,color:'#fff'},{offset:0.5,color:'#e4262c'},{offset:0.6,color:'#e4262c'},{offset:0.6,color:'#fff'},{offset:0.667,color:'#fff'},{offset:0.667,color:'#e4262c'},{offset:0.767,color:'#e4262c'},{offset:0.767,color:'#fff'},{offset:0.833,color:'#fff'},{offset:0.833,color:'#e4262c'},{offset:0.933,color:'#e4262c'},{offset:0.933,color:'#fff'},{offset:1,color:'#fff'}]}:'#ffffff'"}}}}}}}},
    {"data":{"name":"barD"},"transform":[{"filter":"datum.group==='10,12'"}],
     "mark":{"type":"bar","stroke":"black","strokeWidth":1,"fill":{"gradient":"linear","x1":0,"y1":0,"x2":0.13,"y2":1.11,"stops":[{"offset":0,"color":"#e4262c"},{"offset":0.024,"color":"#e4262c"},{"offset":0.024,"color":"#fff"},{"offset":0.04,"color":"#fff"},{"offset":0.04,"color":"#e4262c"},{"offset":0.064,"color":"#e4262c"},{"offset":0.064,"color":"#fff"},{"offset":0.08,"color":"#fff"},{"offset":0.08,"color":"#e4262c"},{"offset":0.104,"color":"#e4262c"},{"offset":0.104,"color":"#fff"},{"offset":0.12,"color":"#fff"},{"offset":0.12,"color":"#e4262c"},{"offset":0.144,"color":"#e4262c"},{"offset":0.144,"color":"#fff"},{"offset":0.16,"color":"#fff"},{"offset":0.16,"color":"#e4262c"},{"offset":0.184,"color":"#e4262c"},{"offset":0.184,"color":"#fff"},{"offset":0.2,"color":"#fff"},{"offset":0.2,"color":"#e4262c"},{"offset":0.224,"color":"#e4262c"},{"offset":0.224,"color":"#fff"},{"offset":0.24,"color":"#fff"},{"offset":0.24,"color":"#e4262c"},{"offset":0.264,"color":"#e4262c"},{"offset":0.264,"color":"#fff"},{"offset":0.28,"color":"#fff"},{"offset":0.28,"color":"#e4262c"},{"offset":0.304,"color":"#e4262c"},{"offset":0.304,"color":"#fff"},{"offset":0.32,"color":"#fff"},{"offset":0.32,"color":"#e4262c"},{"offset":0.344,"color":"#e4262c"},{"offset":0.344,"color":"#fff"},{"offset":0.36,"color":"#fff"},{"offset":0.36,"color":"#e4262c"},{"offset":0.384,"color":"#e4262c"},{"offset":0.384,"color":"#fff"},{"offset":0.4,"color":"#fff"},{"offset":0.4,"color":"#e4262c"},{"offset":0.424,"color":"#e4262c"},{"offset":0.424,"color":"#fff"},{"offset":0.44,"color":"#fff"},{"offset":0.44,"color":"#e4262c"},{"offset":0.464,"color":"#e4262c"},{"offset":0.464,"color":"#fff"},{"offset":0.48,"color":"#fff"},{"offset":0.48,"color":"#e4262c"},{"offset":0.504,"color":"#e4262c"},{"offset":0.504,"color":"#fff"},{"offset":0.52,"color":"#fff"},{"offset":0.52,"color":"#e4262c"},{"offset":0.544,"color":"#e4262c"},{"offset":0.544,"color":"#fff"},{"offset":0.56,"color":"#fff"},{"offset":0.56,"color":"#e4262c"},{"offset":0.584,"color":"#e4262c"},{"offset":0.584,"color":"#fff"},{"offset":0.6,"color":"#fff"},{"offset":0.6,"color":"#e4262c"},{"offset":0.624,"color":"#e4262c"},{"offset":0.624,"color":"#fff"},{"offset":0.64,"color":"#fff"},{"offset":0.64,"color":"#e4262c"},{"offset":0.664,"color":"#e4262c"},{"offset":0.664,"color":"#fff"},{"offset":0.68,"color":"#fff"},{"offset":0.68,"color":"#e4262c"},{"offset":0.704,"color":"#e4262c"},{"offset":0.704,"color":"#fff"},{"offset":0.72,"color":"#fff"},{"offset":0.72,"color":"#e4262c"},{"offset":0.744,"color":"#e4262c"},{"offset":0.744,"color":"#fff"},{"offset":0.76,"color":"#fff"},{"offset":0.76,"color":"#e4262c"},{"offset":0.784,"color":"#e4262c"},{"offset":0.784,"color":"#fff"},{"offset":0.8,"color":"#fff"},{"offset":0.8,"color":"#e4262c"},{"offset":0.824,"color":"#e4262c"},{"offset":0.824,"color":"#fff"},{"offset":0.84,"color":"#fff"},{"offset":0.84,"color":"#e4262c"},{"offset":0.864,"color":"#e4262c"},{"offset":0.864,"color":"#fff"},{"offset":0.88,"color":"#fff"},{"offset":0.88,"color":"#e4262c"},{"offset":0.904,"color":"#e4262c"},{"offset":0.904,"color":"#fff"},{"offset":0.92,"color":"#fff"},{"offset":0.92,"color":"#e4262c"},{"offset":0.944,"color":"#e4262c"},{"offset":0.944,"color":"#fff"},{"offset":0.96,"color":"#fff"},{"offset":0.96,"color":"#e4262c"},{"offset":0.984,"color":"#e4262c"},{"offset":0.984,"color":"#fff"},{"offset":1,"color":"#fff"}]}},
     "encoding":{"x":{"field":"bar","type":"nominal"},"y":{"field":"v","type":"quantitative"}}},
    {"data":{"name":"barD"},"mark":{"type":"rule","strokeWidth":1.2,"color":"black"},"encoding":{"x":{"field":"bar","type":"nominal"},"y":{"field":"v","type":"quantitative"},"y2":{"field":"hi"}}},
    {"data":{"name":"barD"},"mark":{"type":"tick","thickness":1.2,"size":5,"color":"black"},"encoding":{"x":{"field":"bar","type":"nominal"},"y":{"field":"hi","type":"quantitative"}}},
    {"data":{"name":"annD_l"},"mark":{"type":"line","color":"#333333","strokeWidth":1.3},"encoding":{"x":{"field":"bar","type":"nominal"},"y":{"field":"v","type":"quantitative"},"detail":{"field":"id","type":"nominal"}}},
    {"data":{"name":"annD_t"},"mark":{"type":"text","font":"Liberation Sans","fontSize":13,"baseline":"middle","color":"black"},"encoding":{"x":{"field":"bar","type":"nominal"},"y":{"field":"v","type":"quantitative"},"text":{"field":"label"}}},
    {"data":{"name":"annD_t2"},"mark":{"type":"text","font":"Liberation Sans","fontSize":13,"baseline":"middle","color":"black","dx":5.5},"encoding":{"x":{"field":"bar","type":"nominal"},"y":{"field":"v","type":"quantitative"},"text":{"field":"label"}}}
   ]},
  {"width":219,"height":189,
   "layer":[
    {"data":{"name":"darkD"},"mark":{"type":"rect","fill":"#d9d9d9"},
     "encoding":{
      "x":{"field":"x1","type":"quantitative","scale":{"domain":[0,4400],"nice":false},"axis":{"values":[0,500,1000,1500,2000,2500,3000,3500,4000],"labelExpr":"datum.value % 1000 === 0 ? datum.label : ''","format":"d","title":"Time (min)","labelFont":"Liberation Sans","labelFontSize":14,"titleFont":"Liberation Sans","titleFontSize":15,"tickSize":5,"labelPadding":3,"titlePadding":10}},
      "x2":{"field":"x2"},
      "y":{"field":"y1","type":"quantitative","scale":{"domain":[0.6,1.0],"nice":false},"axis":{"values":[0.6,0.7,0.8,0.9,1.0],"format":".1f","title":"Respiratory Quotient","labelFont":"Liberation Sans","labelFontSize":14,"titleFont":"Liberation Sans","titleFontSize":15,"tickSize":5,"labelPadding":3,"titlePadding":6}},
      "y2":{"field":"y2"}}},
    {"data":{"name":"darkD"},"mark":{"type":"text","font":"Liberation Sans","fontSize":13,"color":"#222222","baseline":"middle"},"encoding":{"x":{"field":"mid","type":"quantitative"},"y":{"field":"ym","type":"quantitative"},"text":{"field":"label"}}},
    {"data":{"name":"rq"},"transform":[{"fold":["HFHS","9,11 CLA","10,12 CLA","HFHS+CR"],"as":["series","val"]}],
     "mark":{"type":"line","strokeWidth":2.5},
     "encoding":{"x":{"field":"t","type":"quantitative"},"y":{"field":"val","type":"quantitative"},
      "color":{"field":"series","type":"nominal","scale":{"domain":["HFHS","9,11 CLA","10,12 CLA","HFHS+CR"],"range":["#000000","#8eb4e3","#ff0000","#808080"]},
       "legend":{"orient":"none","legendX":241,"legendY":57,"title":null,"symbolType":"M-2.8,0H2.8","symbolSize":144,"symbolStrokeWidth":3,"labelFont":"Liberation Sans","labelFontSize":14,"labelOffset":7,"rowPadding":9}}}}
   ]}
  ],"spacing":37,"resolve":{"scale":{"fill":"independent","color":"independent"},"legend":{"fill":"independent","color":"independent"}}}
 ],"spacing":2,"resolve":{"scale":{"fill":"independent","color":"independent"},"legend":{"fill":"independent","color":"independent"}}}
],"spacing":1,"resolve":{"scale":{"fill":"independent","color":"independent"},"legend":{"fill":"independent","color":"independent"}}}
],
"spacing":14,
"resolve":{"scale":{"fill":"independent","color":"independent"},"legend":{"fill":"independent","color":"independent"}}
}
